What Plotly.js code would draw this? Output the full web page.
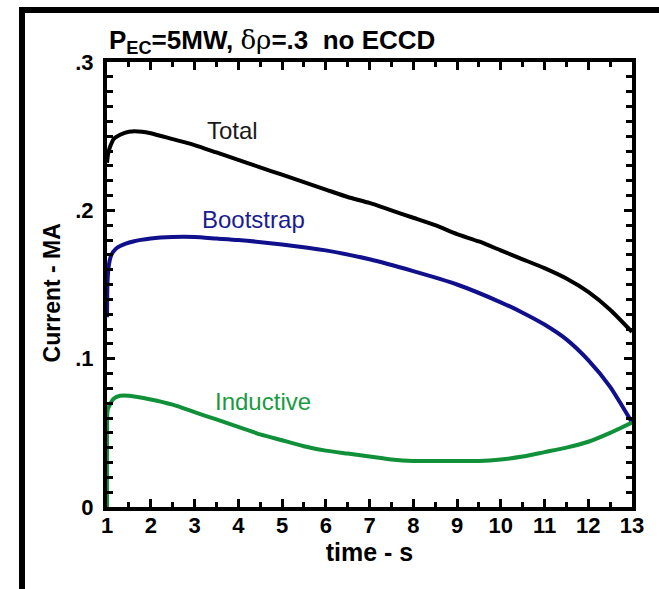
<!DOCTYPE html>
<html>
<head>
<meta charset="utf-8">
<script src="https://cdn.plot.ly/plotly-3.0.1.min.js"></script>
<style>html,body{margin:0;padding:0;background:#fff;}</style>
</head>
<body>
<div id="chart" style="width:659px;height:589px;"></div>
<script>
// time (s)
const tTotal = [1, 1.02, 1.05, 1.1, 1.15, 1.3, 1.5, 1.8, 2, 2.5, 3, 3.5, 4, 4.5, 5, 5.5, 6, 6.5, 7, 7.5, 8, 8.5, 9, 9.5, 10, 10.5, 11, 11.5, 12, 12.5, 13];
const total  = [0.232, 0.237, 0.241, 0.245, 0.248, 0.251, 0.253, 0.253, 0.252, 0.248, 0.244, 0.239, 0.234, 0.229, 0.224, 0.219, 0.214, 0.209, 0.205, 0.200, 0.195, 0.190, 0.184, 0.179, 0.173, 0.167, 0.161, 0.154, 0.145, 0.133, 0.118];

const tBoot = [1, 1.01, 1.03, 1.06, 1.1, 1.2, 1.3, 1.6, 2, 2.5, 3, 3.5, 4, 5, 6, 7, 8, 9, 10, 10.5, 11, 11.5, 12, 12.5, 13];
const bootstrap = [0.128, 0.150, 0.160, 0.166, 0.170, 0.174, 0.176, 0.179, 0.181, 0.182, 0.182, 0.181, 0.180, 0.177, 0.173, 0.167, 0.159, 0.150, 0.138, 0.131, 0.123, 0.113, 0.099, 0.081, 0.057];

const tInd = [1, 1.005, 1.02, 1.05, 1.1, 1.15, 1.3, 1.5, 2, 2.5, 3, 3.5, 4, 4.5, 5, 5.5, 6, 6.5, 7, 7.5, 8, 8.5, 9, 9.5, 10, 10.5, 11, 11.5, 12, 12.5, 13];
const inductive = [0, 0.062, 0.066, 0.068, 0.071, 0.073, 0.075, 0.075, 0.0725, 0.069, 0.064, 0.059, 0.054, 0.049, 0.045, 0.041, 0.038, 0.036, 0.034, 0.032, 0.031, 0.031, 0.031, 0.031, 0.032, 0.034, 0.037, 0.040, 0.044, 0.050, 0.057];

const xTickVals = [1, 2, 3, 4, 5, 6, 7, 8, 9, 10, 11, 12, 13];
const yTickVals = [0, 0.1, 0.2, 0.3];
const yTickText = ["0", ".1", ".2", ".3"];

const seriesNames = ["Total", "Bootstrap", "Inductive"];
const colors = ["#000000", "#10108c", "#109038"];
const labelColors = ["#1a1a1a", "#1c1c90", "#1a9a40"];

const font = "Liberation Sans, Arial, Helvetica, sans-serif";

const traces = [
  {x: tTotal, y: total, name: seriesNames[0]},
  {x: tBoot, y: bootstrap, name: seriesNames[1]},
  {x: tInd, y: inductive, name: seriesNames[2]}
].map((tr, i) => Object.assign(tr, {
  type: 'scatter', mode: 'lines', line: {color: colors[i], width: 4, shape: 'spline', smoothing: 0.6}, hoverinfo: 'skip'
}));

const labelPos = [[3.86, 0.2535], [4.34, 0.1935], [4.57, 0.0708]];

const layout = {
  width: 659, height: 589,
  margin: {l: 107, r: 27, t: 62, b: 82},
  paper_bgcolor: '#fff', plot_bgcolor: '#fff',
  showlegend: false,
  font: {family: font, color: '#000'},
  xaxis: {
    range: [1, 13], tickmode: 'array', tickvals: xTickVals,
    showline: true, linewidth: 4, linecolor: '#000', mirror: 'allticks',
    ticks: 'inside', ticklen: 8, tickwidth: 3, tickcolor: '#000',
    minor: {dtick: 0.5, tick0: 1, ticks: 'inside', ticklen: 5, tickwidth: 3, tickcolor: '#000', showgrid: false},
    showgrid: false, zeroline: false,
    ticklabelstandoff: -4,
    tickfont: {size: 22, family: font, weight: 'bold'},
    title: {text: '<b>time - s</b>', font: {size: 25, family: font}, standoff: 0}
  },
  yaxis: {
    range: [0, 0.3], tickmode: 'array', tickvals: yTickVals, ticktext: yTickText,
    showline: true, linewidth: 4, linecolor: '#000', mirror: 'allticks',
    ticks: 'inside', ticklen: 8, tickwidth: 3, tickcolor: '#000',
    minor: {dtick: 0.01, tick0: 0, ticks: 'inside', ticklen: 6, tickwidth: 3, tickcolor: '#000', showgrid: false},
    showgrid: false, zeroline: false,
    ticklabelstandoff: 5,
    tickfont: {size: 22, family: font, weight: 'bold'}
  },
  annotations: seriesNames.map((n, i) => ({
    x: labelPos[i][0], y: labelPos[i][1], xref: 'x', yref: 'y',
    text: n, showarrow: false, font: {size: 24, family: font, color: labelColors[i]}
  })).concat([
    {
      xref: 'paper', yref: 'paper', x: -0.105, y: 0.482, xanchor: 'center', yanchor: 'middle',
      text: '<b>Current - MA</b>', textangle: -90,
      showarrow: false, font: {size: 23, family: font, color: '#000'}
    },
    {
      xref: 'paper', yref: 'paper', x: 0, y: 1, xanchor: 'left', yanchor: 'bottom', yshift: 2,
      text: '<b>P<sub>EC</sub>=5MW, </b><span style="font-family:\'DejaVu Serif\', serif;">δρ</span><b>=.3  no ECCD</b>',
      showarrow: false, font: {size: 26, family: font, color: '#000'}
    }
  ]),
  shapes: [
    {type: 'line', xref: 'paper', yref: 'paper', x0: -0.1619, x1: -0.1619, y0: 1.1169, y1: -0.19, line: {color: '#000', width: 6}},
    {type: 'line', xref: 'paper', yref: 'paper', x0: -0.1676, x1: 1.06, y0: 1.1169, y1: 1.1169, line: {color: '#000', width: 6}}
  ]
};

Plotly.newPlot('chart', traces, layout, {displayModeBar: false, staticPlot: true});
</script>
</body>
</html>
